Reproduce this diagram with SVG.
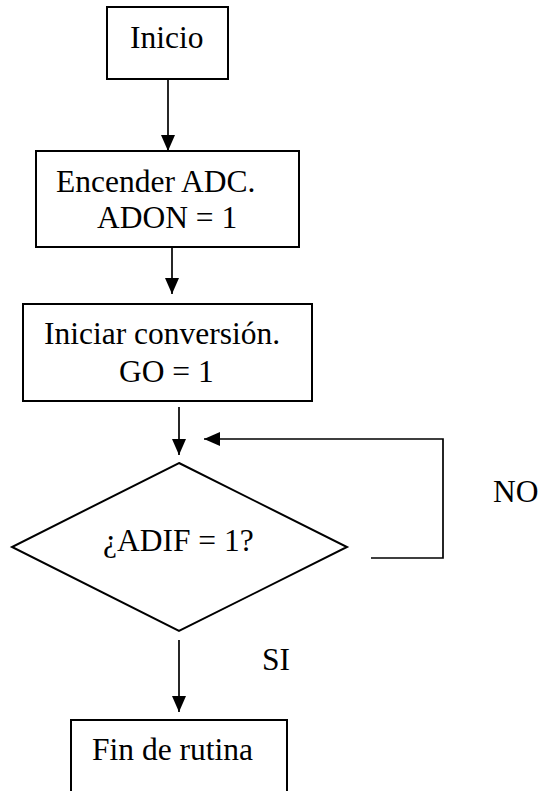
<svg xmlns="http://www.w3.org/2000/svg" width="539" height="791" viewBox="0 0 539 791">
<style>
.shape{fill:#fff;stroke:#000;stroke-width:2}
.conn{fill:none;stroke:#000;stroke-width:1.7}
.t{font-family:'Liberation Serif','Times New Roman','DejaVu Serif',serif;font-size:31.5px;fill:#000}
</style>
<defs>
<marker id="arr" markerUnits="userSpaceOnUse" markerWidth="16" markerHeight="14" refX="16" refY="7" orient="auto">
<path d="M0,0 L16,7 L0,14 z" fill="#000"/>
</marker>
</defs>
<rect width="539" height="791" fill="#fff"/>
<g id="connectors">
<line class="conn" x1="168" y1="79" x2="168" y2="151" marker-end="url(#arr)"/>
<line class="conn" x1="172" y1="247" x2="172" y2="294" marker-end="url(#arr)"/>
<line class="conn" x1="179" y1="407" x2="179" y2="455" marker-end="url(#arr)"/>
<polyline class="conn" points="371,558 443,558 443,439 204,439" marker-end="url(#arr)"/>
<line class="conn" x1="179" y1="640" x2="179" y2="712" marker-end="url(#arr)"/>
<text class="t" font-family="Liberation Serif, serif" x="493" y="502">NO</text>
<text class="t" font-family="Liberation Serif, serif" x="262" y="670">SI</text>
</g>
<g id="inicio">
<rect class="shape" x="107" y="7" width="121" height="72"/>
<text class="t" font-family="Liberation Serif, serif" x="130" y="48">Inicio</text>
</g>
<g id="encender">
<rect class="shape" x="36" y="151" width="263" height="96"/>
<text class="t" font-family="Liberation Serif, serif" x="56" y="192">Encender ADC.</text>
<text class="t" font-family="Liberation Serif, serif" x="97" y="228">ADON = 1</text>
</g>
<g id="iniciar">
<rect class="shape" x="23" y="304" width="289" height="97"/>
<text class="t" font-family="Liberation Serif, serif" x="44" y="344">Iniciar conversión.</text>
<text class="t" font-family="Liberation Serif, serif" x="119" y="382">GO = 1</text>
</g>
<g id="decision">
<polygon class="shape" points="179,463 347,547 179,631 12,547"/>
<text class="t" font-family="Liberation Serif, serif" x="103" y="551">¿ADIF = 1?</text>
</g>
<g id="fin">
<rect class="shape" x="71" y="720" width="216" height="80"/>
<text class="t" font-family="Liberation Serif, serif" x="92" y="760">Fin de rutina</text>
</g>
</svg>
